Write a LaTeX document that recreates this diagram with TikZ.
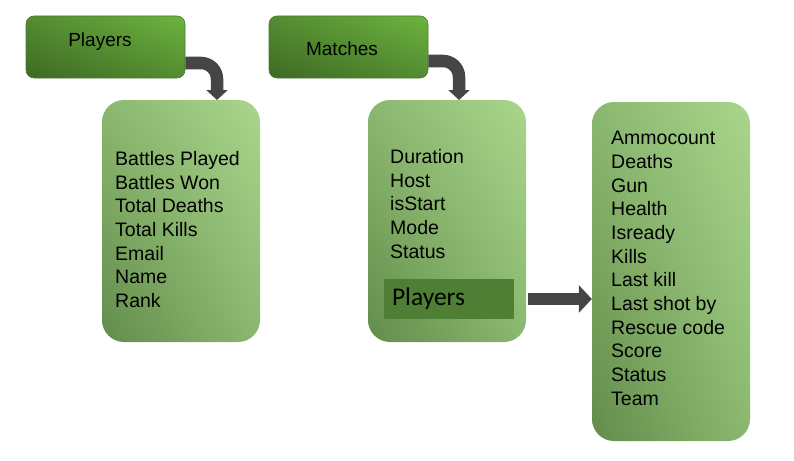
\documentclass[tikz,border=0pt]{standalone}
\usepackage{fontspec}
\setmainfont{Liberation Sans}
\newfontfamily\calibrifont{Carlito}
\usetikzlibrary{positioning,arrows.meta,shadings}

\definecolor{hdrdark}{HTML}{3E6A24}
\definecolor{hdrmid}{HTML}{548C31}
\definecolor{hdrlight}{HTML}{6DB43E}
\definecolor{hdrline}{HTML}{4A7A2E}
\definecolor{boxdark}{HTML}{628C4A}
\definecolor{boxmid}{HTML}{8BB870}
\definecolor{boxlight}{HTML}{A9D68C}
\definecolor{innergreen}{HTML}{4F7F34}
\definecolor{arrowgray}{HTML}{454545}

\begin{document}
\begin{tikzpicture}[x=1pt,y=-1pt,
  hdr/.style={draw=hdrline, line width=0.6pt, rounded corners=8pt,
    minimum width=159pt, minimum height=62pt, inner sep=0pt,
    upper right=hdrlight, lower left=hdrdark, upper left=hdrmid, lower right=hdrmid},
  hdrtxt/.style={inner sep=0pt, font=\fontsize{19}{23}\selectfont},
  listbox/.style={rounded corners=22pt, minimum width=158pt, inner sep=0pt,
    upper right=boxlight, lower left=boxdark, upper left=boxmid, lower right=boxmid},
  listtxt/.style={anchor=north west, inner sep=0pt, align=left,
    font=\fontsize{19.5}{23.7}\selectfont},
  innerbox/.style={fill=innergreen, minimum width=130pt, minimum height=40pt,
    text width=114pt, inner xsep=8pt, inner ysep=0pt, align=left,
    font=\calibrifont\fontsize{25.5}{29}\selectfont},
  bendarrow/.style={draw=arrowgray, line width=12.5pt, rounded corners=16pt,
    -{Triangle[length=10pt,width=21pt]}},
  blockarrow/.style={draw=arrowgray, line width=12pt,
    -{Triangle[length=13pt,width=27pt]}}
]
\useasboundingbox (0,0) rectangle (794,460);

% headers
\node[hdr] (phdr) at (105.5,47) {};
\node[hdrtxt] (phdrtxt) at (100,42) {Players};
\node[hdr] (mhdr) at (348.5,47) {};
\node[hdrtxt] (mhdrtxt) at (342,49) {Matches};

% list boxes
\node[listbox, minimum height=242pt] (pbox) at (181,221) {};
\node[listbox, minimum height=242pt] (mbox) at (447,221) {};
\node[listbox, minimum height=339pt] (sbox) at (671,271.5) {};

\node[listtxt] (plist) at (115,151) {Battles Played\\Battles Won\\Total Deaths\\Total Kills\\Email\\Name\\Rank};
\node[listtxt] (mlist) at (390,149) {Duration\\Host\\isStart\\Mode\\Status};
\node[listtxt] (slist) at (611,131) {Ammocount\\Deaths\\Gun\\Health\\Isready\\Kills\\Last kill\\Last shot by\\Rescue code\\Score\\Status\\Team};

\node[innerbox] (mplayers) at (449,299) {\raisebox{-1pt}{Players}};

% connectors
\coordinate (ptip) at (217,100);
\coordinate (mtip) at (459,100);
\draw[bendarrow] ([yshift=-16pt]phdr.east) -| (ptip);
\draw[bendarrow] ([yshift=-14pt]mhdr.east) -| (mtip);
\draw[blockarrow] (mplayers.east -| mbox.east) ++(2,0) -- (mplayers.east -| sbox.west);
\end{tikzpicture}
\end{document}
